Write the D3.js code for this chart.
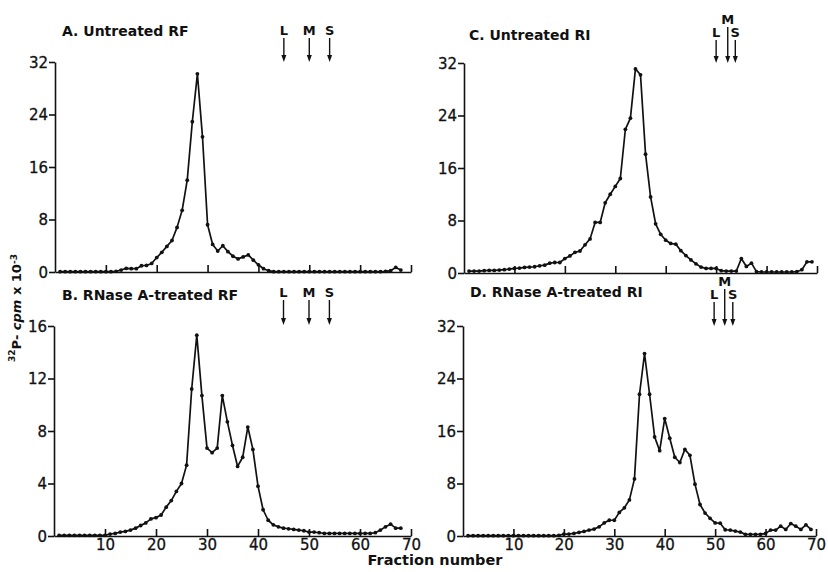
<!DOCTYPE html>
<html>
<head>
<meta charset="UTF-8">
<title>Fraction profiles</title>
<style>
  body { margin: 0; background: #fff; }
  text { font-family: "DejaVu Sans", sans-serif; fill: #111; }
  .tick text { font-size: 15px; stroke: #111; stroke-width: 0.3px; }
  .title { font-size: 14px; font-weight: bold; }
  .mark { font-size: 13px; font-weight: bold; }
</style>
</head>
<body>
<script src="https://cdn.jsdelivr.net/npm/d3@7/dist/d3.min.js"></script>
<script>
var width = 828, height = 572;

// 32P-cpm x 10^-3 per fraction, starting at fraction 1
var valsA = [0.05,0.05,0.05,0.05,0.05,0.05,0.05,0.05,0.05,0.05,0.05,0.1,0.3,0.55,0.5,0.5,0.95,1.0,1.3,2.2,
  3.0,3.9,4.8,6.8,9.4,14.0,22.9,30.2,20.6,7.2,4.2,3.2,4.0,3.1,2.4,2.0,2.3,2.6,1.8,1.1,
  0.5,0.2,0.05,0.05,0.05,0.05,0.05,0.05,0.05,0.05,0.05,0.05,0.05,0.05,0.05,0.05,0.05,0.05,0.05,0.05,
  0.05,0.05,0.05,0.05,0.1,0.2,0.7,0.3];
var valsB = [0.05,0.05,0.05,0.05,0.05,0.05,0.05,0.05,0.05,0.05,0.15,0.2,0.3,0.35,0.45,0.6,0.8,1.0,1.3,1.4,
  1.6,2.2,2.7,3.4,4.0,5.4,11.2,15.3,10.7,6.7,6.35,6.7,10.7,8.7,6.9,5.3,6.0,8.3,6.6,3.8,
  2.0,1.2,0.85,0.7,0.6,0.55,0.5,0.45,0.4,0.3,0.3,0.25,0.2,0.2,0.2,0.2,0.2,0.2,0.2,0.2,
  0.2,0.2,0.25,0.45,0.7,0.9,0.6,0.6];
var valsC = [0.3,0.3,0.3,0.35,0.4,0.4,0.45,0.5,0.6,0.7,0.75,0.85,0.9,0.95,1.1,1.2,1.5,1.6,1.6,2.2,
  2.6,3.15,3.35,4.3,5.2,7.7,7.7,10.7,12.0,13.2,14.4,21.9,23.6,31.1,30.2,18.1,11.6,7.5,5.9,5.0,
  4.5,4.4,3.4,2.65,2.0,1.4,0.9,0.7,0.7,0.7,0.35,0.3,0.3,0.3,2.2,1.0,1.5,0.2,0.15,0.15,
  0.15,0.15,0.15,0.15,0.15,0.2,0.5,1.7,1.7];
var valsD = [0.05,0.05,0.05,0.05,0.05,0.05,0.05,0.05,0.05,0.05,0.05,0.05,0.05,0.05,0.05,0.05,0.05,0.05,0.1,0.3,
  0.3,0.4,0.55,0.7,0.9,1.05,1.4,2.0,2.4,2.4,3.6,4.3,5.5,8.7,21.6,27.8,21.6,15.1,13.0,17.9,
  14.9,12.0,11.2,13.2,12.3,7.9,4.8,3.5,2.7,2.0,1.95,0.95,0.9,0.75,0.6,0.25,0.25,0.25,0.25,0.4,
  0.9,0.9,1.5,1.0,1.9,1.5,1.0,1.7,1.0];

var ticks32 = [0, 8, 16, 24, 32];
var ticks16 = [0, 4, 8, 12, 16];
var xTicks = [10, 20, 30, 40, 50, 60, 70];

// sedimentation markers (fraction numbers)
var markersRF = [{t: "L", f: 45}, {t: "M", f: 50}, {t: "S", f: 54}];
var markersRIc = [{t: "L", f: 50}, {t: "M", f: 52.3}, {t: "S", f: 53.8}];
var markersRId = [{t: "L", f: 49.8}, {t: "M", f: 51.9}, {t: "S", f: 53.5}];

var panels = [
  {title: "A. Untreated  RF", vals: valsA, max: 32, yt: ticks32, xr: [55, 411], yr: [272, 62],
   marks: markersRF, labels: false, tx: 62, ty: 36, mY: 35, mTip: 62},
  {title: "B. RNase A-treated RF", vals: valsB, max: 16, yt: ticks16, xr: [54, 411], yr: [536, 326],
   marks: markersRF, labels: true, tx: 62, ty: 300, mY: 297, mTip: 325},
  {title: "C. Untreated  RI", vals: valsC, max: 32, yt: ticks32, xr: [464, 817], yr: [273, 63],
   marks: markersRIc, labels: false, tx: 469, ty: 40, mY: 37, mTip: 63},
  {title: "D. RNase A-treated RI", vals: valsD, max: 32, yt: ticks32, xr: [463, 816], yr: [536, 326],
   marks: markersRId, labels: true, tx: 470, ty: 297, mY: 299, mTip: 326}
];

var svg = d3.select("body").append("svg")
  .attr("width", width)
  .attr("height", height);

panels.forEach(function(p) {
  var x = d3.scaleLinear().domain([0, 70]).range(p.xr);
  var y = d3.scaleLinear().domain([0, p.max]).range(p.yr);
  var g = svg.append("g");

  // y axis, ticks pointing out
  var ya = g.append("g")
    .attr("transform", "translate(" + p.xr[0] + ",0)")
    .call(d3.axisLeft(y).tickValues(p.yt).tickSize(6).tickSizeOuter(0).tickPadding(1));
  // x axis, ticks pointing up
  var xa = g.append("g")
    .attr("transform", "translate(0," + p.yr[0] + ")")
    .call(d3.axisBottom(x).tickValues(xTicks).tickSize(-7).tickSizeOuter(0).tickPadding(3)
      .tickFormat(p.labels ? d3.format("d") : ""));
  [ya, xa].forEach(function(a) {
    a.selectAll("path, line").attr("stroke", "#111").attr("stroke-width", 1.6);
    a.selectAll("text").attr("fill", "#111");
  });
  ya.selectAll(".tick text").attr("dy", "0.36em");
  xa.selectAll(".tick text").attr("dy", "0.72em");

  var pts = p.vals.map(function(v, i) { return [i + 1, v]; });
  g.append("path")
    .datum(pts)
    .attr("fill", "none")
    .attr("stroke", "#111")
    .attr("stroke-width", 1.7)
    .attr("stroke-linejoin", "round")
    .attr("d", d3.line().x(function(d) { return x(d[0]); }).y(function(d) { return y(d[1]); }));
  g.selectAll("circle")
    .data(pts)
    .join("circle")
    .attr("cx", function(d) { return x(d[0]); })
    .attr("cy", function(d) { return y(d[1]); })
    .attr("r", 1.9)
    .attr("fill", "#111");

  g.append("text")
    .attr("class", "title")
    .attr("x", p.tx)
    .attr("y", p.ty)
    .text(p.title);

  // marker arrows
  var close = (p.marks[2].f - p.marks[0].f) < 6;
  p.marks.forEach(function(m, i) {
    var mx = x(m.f);
    var ly = (close && i === 1) ? p.mY - 13 : p.mY;
    g.append("text")
      .attr("class", "mark")
      .attr("x", mx)
      .attr("y", ly)
      .attr("text-anchor", "middle")
      .text(m.t);
    var top = (close && i === 1) ? ly + 3 : p.mY + 3;
    g.append("line")
      .attr("x1", mx).attr("x2", mx)
      .attr("y1", top).attr("y2", p.mTip - 5)
      .attr("stroke", "#111").attr("stroke-width", 1.4);
    g.append("path")
      .attr("d", "M" + (mx - 2.5) + "," + (p.mTip - 7) + "L" + (mx + 2.5) + "," + (p.mTip - 7) + "L" + mx + "," + p.mTip + "Z")
      .attr("fill", "#111");
  });
});

// shared axis titles
svg.append("text")
  .attr("x", 435)
  .attr("y", 565)
  .attr("text-anchor", "middle")
  .style("font-size", "14.5px")
  .style("font-weight", "bold")
  .text("Fraction  number");

var yl = svg.append("text")
  .attr("transform", "translate(19,308) rotate(-90)")
  .attr("text-anchor", "middle")
  .style("font-size", "13px")
  .style("font-weight", "bold");
yl.append("tspan").attr("dy", "-0.4em").style("font-size", "9px").text("32");
yl.append("tspan").attr("dy", "0.4em").text("P- ");
yl.append("tspan").style("font-style", "italic").text("cpm");
yl.append("tspan").text(" x 10");
yl.append("tspan").attr("dy", "-0.45em").style("font-size", "9px").text("-3");
</script>
</body>
</html>
